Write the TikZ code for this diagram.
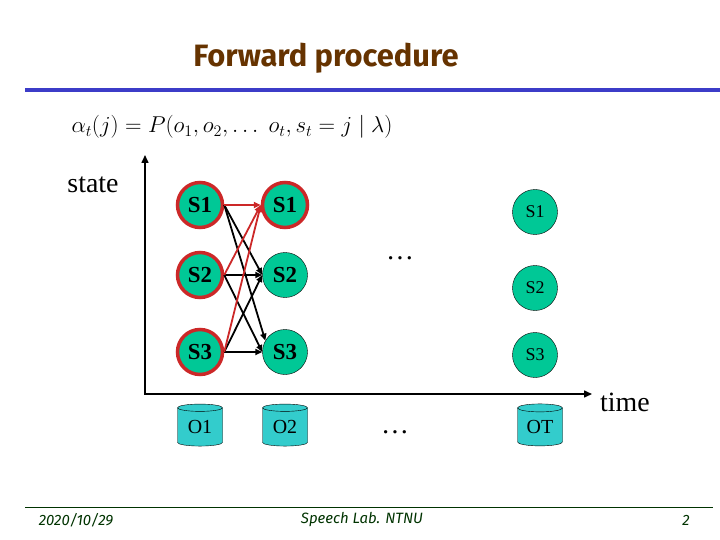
\RequirePackage{fix-cm}
\documentclass[tikz,border=0pt]{standalone}
\usepackage{fontspec}
\setmainfont{Liberation Serif}
\newfontfamily\slidefont{Fira Sans}
\usetikzlibrary{arrows.meta,shapes.geometric}
\definecolor{titlebrown}{RGB}{102,51,0}
\definecolor{barblue}{RGB}{60,60,200}
\definecolor{footgreen}{RGB}{0,51,0}
\definecolor{statefill}{RGB}{0,200,150}
\definecolor{edgered}{RGB}{204,40,40}
\definecolor{obsfill}{RGB}{51,204,204}

\tikzset{
  statenode/.style={circle,draw=black,fill=statefill,minimum size=45bp,inner sep=0pt,
    font=\bfseries\fontsize{23}{23}\selectfont},
  activenode/.style={statenode,draw=edgered,line width=3.5bp},
  laststate/.style={statenode,font=\fontsize{18}{18}\selectfont},
  obsnode/.style={cylinder,shape border rotate=90,aspect=0.3,draw=black,fill=obsfill,
    minimum width=45bp,minimum height=42bp,inner sep=0pt,font=\fontsize{20}{20}\selectfont},
  trans/.style={-{Triangle[length=7bp,width=6bp]},line width=1.8bp},
  redtrans/.style={trans,draw=edgered}
}

\begin{document}
\begin{tikzpicture}[x=1bp,y=-1bp]
  \useasboundingbox (0,0) rectangle (720,540);

  % header
  \node[font=\slidefont\bfseries\fontsize{31}{31}\selectfont,text=titlebrown] (title) at (326,58) {Forward procedure};
  \draw[barblue,line width=4bp] (25,90) -- (720,90);
  \node[font=\fontsize{23}{23}\selectfont] (formula) at (232,127)
    {$\alpha_t(j) = P(o_1, o_2, \ldots\; o_t, s_t = j \mid \lambda)$};

  % axes
  \coordinate (ytop) at (145,155);
  \coordinate (xend) at (592,394);
  \draw[line width=1.5bp,{Triangle[length=8bp,width=7bp]}-{Triangle[length=8bp,width=7bp]}] (ytop) |- (xend);
  \node[font=\fontsize{28}{28}\selectfont] (state) at (93,185) {state};
  \node[font=\fontsize{28}{28}\selectfont] (time) at (625,402) {time};

  % trellis
  \node[activenode] (s1a) at (200,205) {S1};
  \node[activenode] (s2a) at (200,275) {S2};
  \node[activenode] (s3a) at (200,352) {S3};
  \node[activenode] (s1b) at (285,205) {S1};
  \node[statenode]  (s2b) at (285,275) {S2};
  \node[statenode]  (s3b) at (285,352) {S3};
  \node[font=\fontsize{28}{28}\selectfont] (dotsup) at (400,258) {\ldots};
  \node[laststate] (s1t) at (535,212) {S1};
  \node[laststate] (s2t) at (535,288) {S2};
  \node[laststate] (s3t) at (535,355) {S3};

  \draw[trans] (s1a.east) -- (s2b.west);
  \draw[trans] (s1a.east) -- (s3b.150);
  \draw[trans] (s2a.east) -- (s2b.west);
  \draw[trans] (s2a.east) -- (s3b.west);
  \draw[trans] (s3a.east) -- (s2b.west);
  \draw[trans] (s3a.east) -- (s3b.west);
  \draw[redtrans] (s1a.east) -- (s1b.west);
  \draw[redtrans] (s2a.east) -- (s1b.west);
  \draw[redtrans] (s3a.east) -- (s1b.west);

  % observations
  \node[obsnode] (o1) at (200,427) {O1};
  \node[obsnode] (o2) at (285,427) {O2};
  \node[font=\fontsize{28}{28}\selectfont] (dotsdown) at (395,432) {\ldots};
  \node[obsnode] (ot) at (540,427) {OT};

  % footer
  \draw[footgreen,line width=0.8bp] (25,507) -- (713,507);
  \node[font=\slidefont\itshape\fontsize{15}{15}\selectfont,text=footgreen] (date) at (76,520) {2020/10/29};
  \node[font=\slidefont\itshape\fontsize{15}{15}\selectfont,text=footgreen] (lab) at (362,520) {Speech Lab. NTNU};
  \node[font=\slidefont\itshape\fontsize{15}{15}\selectfont,text=footgreen] (page) at (686,520) {2};
\end{tikzpicture}
\end{document}
